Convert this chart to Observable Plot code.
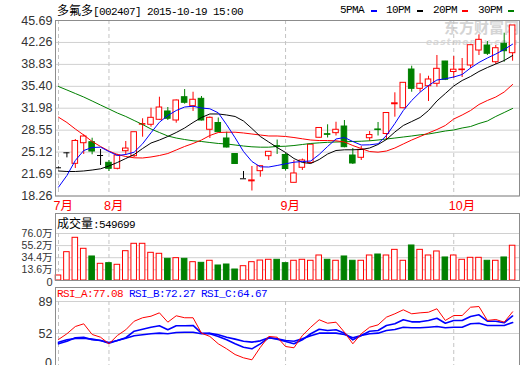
<!DOCTYPE html>
<html><head><meta charset="utf-8">
<script src="https://cdn.jsdelivr.net/npm/d3@7"></script>
<script src="https://cdn.jsdelivr.net/npm/@observablehq/plot@0.6"></script>
<style>
body{margin:0;background:#fff;}
#wrap{position:relative;width:520px;height:365px;overflow:hidden;font-family:"Liberation Sans","Noto Sans CJK SC",sans-serif;}
.abs{position:absolute;white-space:nowrap;line-height:14px;}
.mono{font-family:"Liberation Mono","Noto Sans CJK SC",monospace;font-size:11px;letter-spacing:-0.6px;}
.cjk{font-family:"Noto Sans CJK SC";font-size:12px;}
.dash{position:absolute;height:2px;width:6px;top:10px;}
#wrap svg{position:absolute;left:0;}
</style></head><body><div id="wrap">
<div class="abs" style="left:444px;top:18px;font-family:'Noto Sans CJK SC';font-weight:bold;font-size:15px;color:#d4d4d4;line-height:18px">东方财富网</div>
<div class="abs" style="left:426px;top:37px;font-family:'DejaVu Sans';font-style:italic;font-weight:bold;font-size:9px;color:#dadada;letter-spacing:1px;line-height:10px">eastmoney.com</div>
</div>
<script>
// ---- data ----
const monthTicks  = [0, 6, 27, 47];
const monthLabels = ["7月", "8月", "9月", "10月"];
const priceTicks  = [18.26, 21.69, 25.12, 28.55, 31.98, 35.40, 38.83, 42.26, 45.69];
const volTicks    = [13.6, 34.4, 55.2, 76.0];
const volFloor    = -4.8;   // bottom edge of the volume panel, in 万
const rsiTicks    = [52, 89];

const openP  = [22.67,25.01,23.29,26.51,26.67,24.59,23.45,22.51,25.26,24.48,
                29.40,29.39,30.17,31.47,30.06,33.70,32.30,33.45,28.61,29.67,
                27.25,24.82,20.95,20.55,22.14,24.48,26.05,24.67,20.32,22.67,
                23.42,27.36,27.92,28.08,29.12,24.59,24.23,27.29,28.66,27.95,
                32.60,31.98,38.03,35.01,35.42,35.80,39.28,37.64,37.93,38.66,
                41.00,41.78,39.17,42.05,40.58];
const highP  = [22.80,25.01,27.09,27.83,27.29,25.53,23.81,24.79,26.78,28.23,
                30.33,31.98,33.70,32.09,33.27,34.90,34.48,33.81,30.61,30.45,
                28.23,24.90,22.09,22.87,22.95,25.20,27.01,24.98,23.81,24.04,
                26.30,28.92,29.39,29.79,30.06,25.68,26.00,28.34,29.75,31.25,
                34.39,35.97,38.55,37.36,36.98,40.22,39.30,40.06,39.75,41.85,
                43.45,42.41,41.78,43.70,44.91];
const lowP   = [22.60,24.22,22.56,24.75,24.70,23.03,22.09,22.35,24.59,24.28,
                27.45,29.02,30.06,30.06,29.64,32.61,31.47,29.98,27.25,28.19,
                25.76,23.18,20.95,19.04,21.20,23.81,24.75,22.17,20.32,22.25,
                23.34,27.30,27.33,27.64,25.79,23.18,23.81,26.78,27.64,26.93,
                30.58,31.90,34.48,34.48,33.03,35.27,36.30,36.62,36.78,38.19,
                40.22,40.22,38.81,39.17,39.33];
const closeP = [22.67,25.01,26.86,27.56,25.21,24.59,22.51,24.59,25.68,28.23,
                29.50,30.48,32.09,30.33,33.19,32.83,33.30,30.06,30.48,28.23,
                25.84,23.26,20.95,20.70,22.92,25.17,25.95,22.48,21.78,23.81,
                26.28,28.89,27.82,28.61,25.89,23.34,25.48,27.79,28.56,31.23,
                32.75,35.95,35.01,35.80,36.47,38.14,36.42,38.00,38.03,41.83,
                42.67,40.49,41.36,40.89,44.91];
// volume in 万
const volume = [3.8,43.9,68.6,49.7,36.5,23.9,25.0,22.2,45.6,58.3,
                58.3,42.8,41.1,32.5,33.6,32.5,26.7,25.6,29.1,21.0,
                22.7,14.1,19.8,26.7,29.5,30.8,30.8,25.0,29.1,30.8,
                29.1,38.2,30.8,29.1,36.5,29.1,29.1,38.2,39.9,38.2,
                47.9,29.1,55.4,47.9,38.2,45.1,34.8,38.2,30.8,34.2,
                34.2,29.1,29.1,34.8,54.97];
const lastVolume = 549699;
const ma5  = [19.64,21.46,23.81,25.37,25.84,25.89,25.21,24.59,24.75,25.11,
              26.42,28.14,29.79,30.84,31.62,32.17,32.29,32.01,31.89,31.26,
              29.39,27.36,25.21,23.65,22.82,22.79,23.03,23.29,23.54,23.65,
              23.73,24.75,26.00,27.17,27.40,26.78,26.23,26.26,26.42,27.72,
              29.59,31.62,33.19,34.48,35.53,36.39,36.58,36.86,37.25,38.27,
              39.13,39.83,40.45,41.16,41.99];
const ma10 = [22.17,22.09,22.09,22.17,22.32,22.51,22.95,23.50,24.12,24.75,
              25.68,26.54,27.01,27.56,28.18,28.89,29.75,30.53,31.08,31.08,
              30.92,30.69,29.98,28.81,27.56,26.70,25.84,25.06,24.12,23.50,
              23.34,23.96,24.82,25.37,25.48,25.48,25.53,25.76,26.31,27.09,
              28.26,29.28,29.90,30.53,31.62,33.11,34.28,35.45,36.31,36.94,
              37.72,38.34,38.89,39.44,40.22];
const ma20 = [30.58,29.75,28.73,27.79,26.78,26.00,25.29,24.75,24.43,24.23,
              24.20,24.36,24.59,24.90,25.45,26.00,26.47,27.01,27.72,28.18,
              28.23,28.23,28.11,27.95,27.79,27.64,27.64,27.56,27.40,27.20,
              27.01,26.93,26.93,26.89,26.70,26.15,25.68,25.21,25.11,25.29,
              25.76,26.39,27.01,27.56,28.11,28.65,29.28,30.29,30.92,31.62,
              32.56,33.19,33.73,34.51,35.69];
const ma30 = [35.37,34.83,34.28,33.73,33.11,32.48,31.86,31.23,30.69,30.06,
              29.43,28.73,28.18,27.64,27.32,27.09,26.89,26.78,26.62,26.47,
              26.39,26.23,26.07,25.95,25.89,25.89,26.00,26.04,26.15,26.31,
              26.47,26.57,26.65,26.70,26.73,26.78,26.82,26.89,27.01,27.17,
              27.32,27.48,27.64,27.82,27.95,28.18,28.42,28.58,28.89,29.12,
              29.59,29.98,30.69,31.31,31.94];
const rsiA = [45.1,51.7,60.1,63.2,50.9,47.7,40.1,49.7,56.3,66.2,
              70.2,72.0,75.9,65.1,72.5,70.2,70.2,52.4,48.6,40.1,
              34.3,27.7,23.9,21.6,36.0,48.6,47.7,37.0,35.5,49.7,
              59.3,67.9,63.9,65.1,53.5,40.1,51.7,59.3,62.0,70.9,
              74.8,79.4,74.8,75.9,76.6,80.6,67.1,72.8,72.8,82.4,
              83.2,67.1,68.2,65.1,77.08];
const rsiB = [40.1,43.1,47.1,47.7,44.7,43.9,40.8,43.9,47.1,54.7,
              57.0,59.3,60.9,56.3,60.9,60.9,61.3,52.4,51.7,48.6,
              44.7,40.1,36.2,34.3,40.0,47.1,45.5,42.8,40.1,44.7,
              51.7,57.0,55.5,56.3,52.4,44.7,49.7,54.7,55.5,61.3,
              63.2,67.9,65.5,65.5,67.1,69.7,63.9,67.1,67.1,71.7,
              73.6,66.2,66.2,64.4,72.27];
const rsiC = [42.0,44.7,46.2,46.6,45.5,43.9,41.6,43.9,46.6,49.4,
              50.5,51.7,52.4,51.7,53.2,53.5,53.5,51.7,52.4,50.5,
              47.7,45.5,43.1,42.0,43.5,47.1,45.9,43.9,43.1,45.9,
              49.4,52.4,52.4,52.4,50.9,47.1,49.7,51.7,52.4,55.5,
              56.6,59.3,58.6,58.6,59.3,60.1,58.6,59.3,59.3,63.2,
              63.9,61.3,61.3,61.3,64.67];

// ---- build ----
const RED = "#ff0000", GREEN = "#008000", BLUE = "#0000ff";
const idx = d3.range(closeP.length);
const candles = idx.map(i => ({i, o: openP[i], h: highP[i], l: lowP[i], c: closeP[i], v: volume[i]}));
const colorOf = d => d.c > d.o ? RED : d.c < d.o ? GREEN : "#000000";
const series = (arr) => arr.map((v, i) => ({i, v}));
const xDomain = [-0.357, 54.82];
const GRID = "#d0d0d0", FRAME = "#8c8c8c", DASH = "#c4c4c4";
const baseStyle = {background: "transparent", fontFamily: "Liberation Sans, Noto Sans CJK SC, sans-serif", fontSize: "12.5px", color: "#333", overflow: "visible"};
const hw = 0.33;

const main = Plot.plot({
  width: 520, height: 213, marginLeft: 55, marginRight: 1, marginTop: 20, marginBottom: 17.5,
  style: baseStyle,
  x: {type: "linear", domain: xDomain},
  y: {domain: [18.26, 45.69]},
  marks: [
    Plot.gridY(priceTicks, {stroke: GRID, strokeOpacity: 1}),
    Plot.ruleX(monthTicks, {stroke: DASH, strokeDasharray: "4,3"}),
    Plot.axisY(priceTicks, {label: null, tickSize: 0, tickPadding: 3, tickFormat: d => d.toFixed(2), fill: "#333", fontSize: 12.5}),
    Plot.axisX(monthTicks, {label: null, tickSize: 0, tickPadding: 5, tickFormat: d => monthLabels[monthTicks.indexOf(d)], fill: RED, textAnchor: "start", dx: -5, fontSize: 12.5}),
    Plot.ruleX(candles, {x: "i", y1: "l", y2: "h", stroke: colorOf, strokeWidth: 1}),
    Plot.rect(candles.filter(d => d.c !== d.o), {x1: d => d.i - hw, x2: d => d.i + hw, y1: "o", y2: "c",
      fill: d => d.c > d.o ? "white" : GREEN, stroke: colorOf, strokeWidth: 1}),
    Plot.ruleY(candles.filter(d => d.c === d.o), {y: "c", x1: d => d.i - 0.36, x2: d => d.i + 0.36, stroke: "#000"}),
    Plot.line(series(ma30), {x: "i", y: "v", stroke: GREEN, strokeWidth: 1}),
    Plot.line(series(ma20), {x: "i", y: "v", stroke: RED, strokeWidth: 1}),
    Plot.line(series(ma10), {x: "i", y: "v", stroke: "#000", strokeWidth: 1}),
    Plot.line(series(ma5), {x: "i", y: "v", stroke: BLUE, strokeWidth: 1}),
    Plot.frame({stroke: FRAME})
  ]
});
main.style.top = "0px";

const vol = Plot.plot({
  width: 520, height: 67, marginLeft: 55, marginRight: 1, marginTop: 20, marginBottom: 0,
  style: baseStyle,
  x: {type: "linear", domain: xDomain, axis: null},
  y: {domain: [volFloor, 76]},
  marks: [
    Plot.gridY(volTicks, {stroke: GRID, strokeOpacity: 1}),
    Plot.ruleX(monthTicks, {stroke: DASH, strokeDasharray: "4,3"}),
    Plot.rect(candles, {x1: d => d.i - hw, x2: d => d.i + hw, y1: () => volFloor, y2: "v",
      fill: d => d.c < d.o ? GREEN : "white", stroke: d => d.c < d.o ? GREEN : RED, strokeWidth: 1}),
    Plot.axisY(volTicks, {label: null, tickSize: 0, tickPadding: 3, tickFormat: d => d.toFixed(1) + "万", fill: "#333", fontSize: 10.5}),
    Plot.text(["0"], {frameAnchor: "bottom-left", lineAnchor: "middle", textAnchor: "end", dx: -3, dy: 2, fill: "#333", fontSize: 11}),
    Plot.frame({stroke: FRAME, insetTop: -20})
  ]
});
vol.style.top = "213px";

const rsi = Plot.plot({
  width: 520, height: 91, marginLeft: 55, marginRight: 1, marginTop: 14, marginBottom: 0,
  style: baseStyle,
  x: {type: "linear", domain: xDomain, axis: null},
  y: {domain: [0, 89]},
  marks: [
    Plot.gridY(rsiTicks, {stroke: GRID, strokeOpacity: 1}),
    Plot.ruleX(monthTicks, {stroke: DASH, strokeDasharray: "4,3"}),
    Plot.line(series(rsiC), {x: "i", y: "v", stroke: BLUE, strokeWidth: 1.6}),
    Plot.line(series(rsiB), {x: "i", y: "v", stroke: BLUE, strokeWidth: 1.6}),
    Plot.line(series(rsiA), {x: "i", y: "v", stroke: RED, strokeWidth: 1}),
    Plot.axisY(rsiTicks, {label: null, tickSize: 0, tickPadding: 3, fill: "#333", fontSize: 12.5}),
    Plot.frame({stroke: FRAME, insetTop: -14})
  ]
});
rsi.style.top = "287px";

const wrap = document.getElementById("wrap");
wrap.append(main, vol, rsi);

// text overlays
const add = (html) => { const t = document.createElement("template"); t.innerHTML = html.trim(); wrap.append(t.content.firstChild); };
add(`<div class="abs" style="left:57px;top:3px"><span class="cjk">多氟多</span><span class="mono">[002407] 2015-10-19 15:00</span></div>`);
add(`<div class="abs mono" style="left:340px;top:3px">5PMA</div>`);
add(`<div class="dash" style="left:371px;background:${BLUE}"></div>`);
add(`<div class="abs mono" style="left:386px;top:3px">10PM</div>`);
add(`<div class="dash" style="left:417px;background:#000"></div>`);
add(`<div class="abs mono" style="left:433px;top:3px">20PM</div>`);
add(`<div class="dash" style="left:462px;background:${RED}"></div>`);
add(`<div class="abs mono" style="left:478px;top:3px">30PM</div>`);
add(`<div class="dash" style="left:508px;background:${GREEN}"></div>`);
add(`<div class="abs" style="left:57px;top:216px"><span class="cjk">成交量</span><span class="mono">:${lastVolume}</span></div>`);
add(`<div class="abs mono" style="left:57px;top:287px"><span style="color:${RED}">RSI_A:${rsiA[rsiA.length-1].toFixed(2)}</span> <span style="color:${BLUE}">RSI_B:${rsiB[rsiB.length-1].toFixed(2)}</span> <span style="color:${BLUE}">RSI_C:${rsiC[rsiC.length-1].toFixed(2)}</span></div>`);
add(`<div class="abs" style="left:30px;width:22px;text-align:right;top:356px;font-size:12.5px;color:#333">0</div>`);
</script>
</body></html>
